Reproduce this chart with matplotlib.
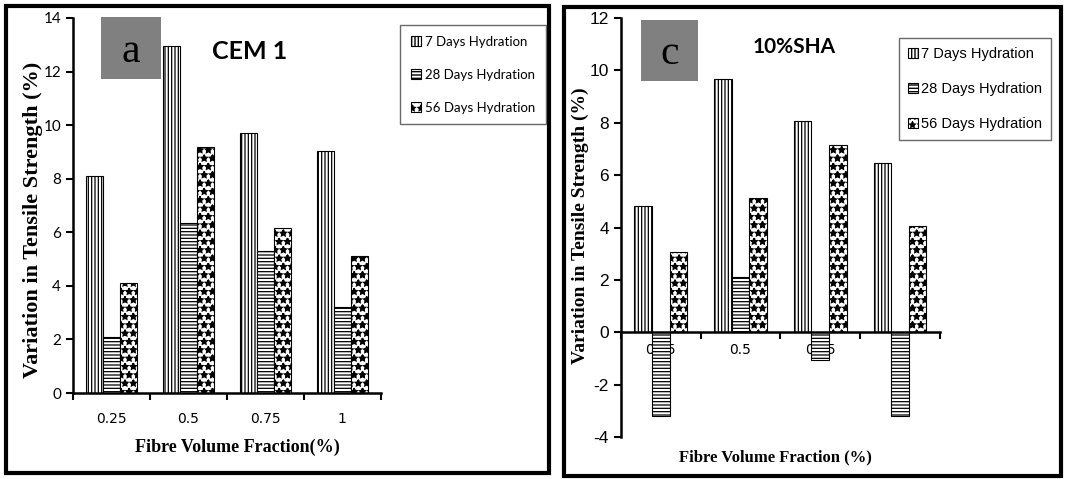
import matplotlib
matplotlib.use("Agg")
import matplotlib.pyplot as plt
from matplotlib.patches import Rectangle, Patch
import numpy as np

fractions = ["0.25", "0.5", "0.75", "1"]
series = ["7 Days Hydration", "28 Days Hydration", "56 Days Hydration"]

# CEM 1
cem_7 = [8.1, 12.95, 9.7, 9.05]
cem_28 = [2.1, 6.35, 5.3, 3.2]
cem_56 = [4.12, 9.2, 6.15, 5.13]

# 10% SHA
sha_7 = [4.83, 9.68, 8.05, 6.45]
sha_28 = [-3.18, 2.1, -1.07, -3.18]
sha_56 = [3.06, 5.12, 7.14, 4.05]

hatches = ["|||||", "-----", "**"]
hatch_lw = [0.9, 0.9, 1.2]

fig = plt.figure(figsize=(10.65, 4.79), dpi=100)

# frames around each panel
fig.add_artist(Rectangle((0.0056, 0.0125), 0.510, 0.975, transform=fig.transFigure,
                         fill=False, edgecolor="black", linewidth=3))
fig.add_artist(Rectangle((0.5296, 0.0063), 0.4667, 0.979, transform=fig.transFigure,
                         fill=False, edgecolor="black", linewidth=3))


def draw_panel(ax, values, ylim, yticks, tickfont, ticksize, xtickfont, xticksize):
    x = np.arange(len(fractions))
    w = 0.22
    for i, vals in enumerate(values):
        ax.bar(x + (i - 1) * w, vals, w, facecolor="white", edgecolor="black",
               linewidth=0.8, hatch=hatches[i], hatch_linewidth=hatch_lw[i], zorder=2)
    ax.set_xlim(-0.5, 3.5)
    ax.set_ylim(*ylim)
    ax.set_yticks(yticks)
    ax.set_yticklabels([str(t) for t in yticks], fontfamily=tickfont, fontsize=ticksize)
    ax.set_xticks(np.arange(-0.5, 4, 1))
    ax.set_xticklabels([])
    ax.set_xticks(x, fractions, minor=True)
    for lab in ax.get_xticklabels(minor=True):
        lab.set_fontfamily(xtickfont)
        lab.set_fontsize(xticksize)
    ax.tick_params(axis="x", which="minor", length=0, pad=10)
    ax.tick_params(axis="x", which="major", length=5, width=1.5, direction="out")
    ax.tick_params(axis="y", length=5, width=1.5, direction="out")
    for s in ["top", "right"]:
        ax.spines[s].set_visible(False)
    for s in ["left", "bottom"]:
        ax.spines[s].set_linewidth(1.8)
    ax.spines["bottom"].set_position(("data", 0))
    ax.set_axisbelow(True)


# panel a
ax1 = fig.add_axes([0.0685, 0.1795, 0.289, 0.783])
draw_panel(ax1, [cem_7, cem_28, cem_56], (0, 14), list(range(0, 15, 2)),
           "Lato", 11, "Lato", 11)
ax1.tick_params(axis="x", which="minor", pad=14)

# panel c
ax2 = fig.add_axes([0.583, 0.0877, 0.2995, 0.8747])
draw_panel(ax2, [sha_7, sha_28, sha_56], (-4, 12), list(range(-4, 13, 2)),
           "Liberation Sans", 12.5, "Liberation Serif", 9)
ax2.tick_params(axis="x", which="minor", pad=8)

# grey label boxes
fig.add_artist(Rectangle((0.0948, 0.835), 0.0563, 0.129, transform=fig.transFigure,
                         facecolor="#808080", edgecolor="none"))
fig.text(0.1229, 0.893, "a", fontfamily="Liberation Serif", fontsize=30,
         ha="center", va="center")
fig.add_artist(Rectangle((0.602, 0.831), 0.0535, 0.127, transform=fig.transFigure,
                         facecolor="#808080", edgecolor="none"))
fig.text(0.6287, 0.888, "c", fontfamily="Liberation Serif", fontsize=30,
         ha="center", va="center")

fig.text(0.2347, 0.893, "CEM 1", fontfamily="Lato", fontweight="bold", fontsize=18,
         ha="center", va="center")
fig.text(0.746, 0.902, "10%SHA", fontfamily="Lato", fontweight="bold", fontsize=15,
         ha="center", va="center")

# axis titles
fig.text(0.031, 0.54, "Variation in Tensile Strength (%)", fontfamily="Liberation Serif",
         fontweight="bold", fontsize=16, rotation=90, ha="center", va="center")
fig.text(0.5446, 0.528, "Variation in Tensile Strength (%)", fontfamily="Liberation Serif",
         fontweight="bold", fontsize=14, rotation=90, ha="center", va="center")
fig.text(0.2225, 0.0668, "Fibre Volume Fraction(%)", fontfamily="Liberation Serif",
         fontweight="bold", fontsize=13, ha="center", va="center")
fig.text(0.7277, 0.046, "Fibre Volume Fraction (%)", fontfamily="Liberation Serif",
         fontweight="bold", fontsize=12, ha="center", va="center")

# legends
handles = [Patch(facecolor="white", edgecolor="black", hatch=hatches[i], linewidth=0.8)
           for i in range(3)]
leg1 = fig.legend(handles, series, loc="upper left", bbox_to_anchor=(0.3756, 0.9478),
                  frameon=True, fancybox=False, edgecolor="#444444",
                  prop={"family": "Lato", "size": 9.5}, handlelength=0.8, handleheight=0.8,
                  handletextpad=0.3, labelspacing=1.6, borderpad=0.8, borderaxespad=0)
leg1.get_frame().set_linewidth(1.0)
leg2 = fig.legend(handles, series, loc="upper left", bbox_to_anchor=(0.8441, 0.9207),
                  frameon=True, fancybox=False, edgecolor="#444444",
                  prop={"family": "Liberation Sans", "size": 10.5}, handlelength=0.7,
                  handleheight=0.7, handletextpad=0.2, labelspacing=1.45, borderpad=0.6,
                  borderaxespad=0)
leg2.get_frame().set_linewidth(1.0)

fig.savefig("out.png", dpi=100)
